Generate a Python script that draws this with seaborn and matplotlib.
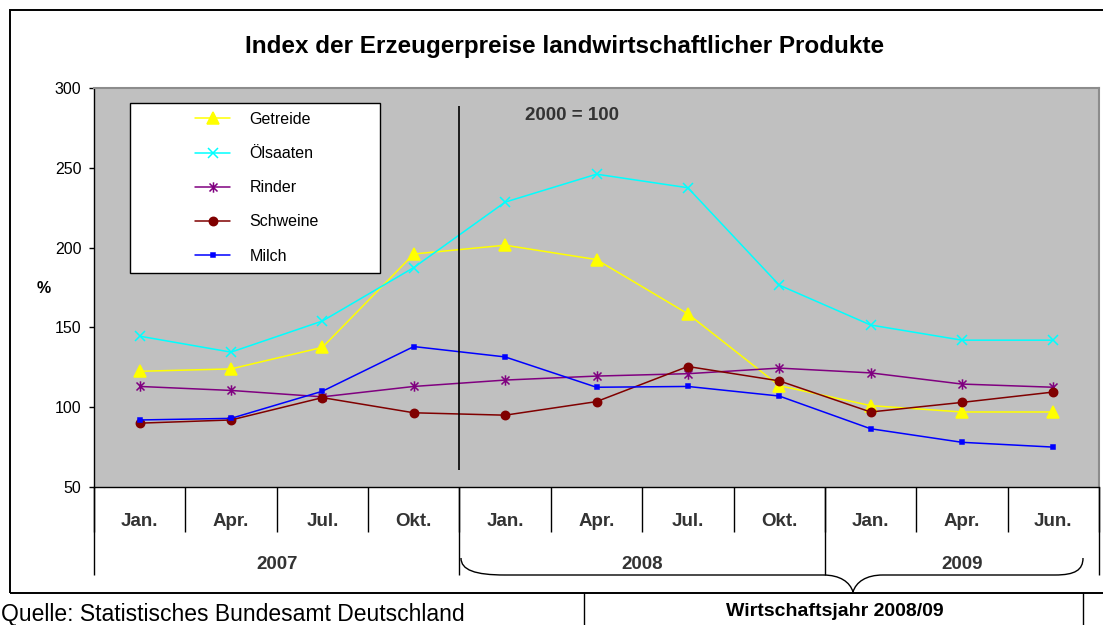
import numpy as np
import matplotlib
matplotlib.use("Agg")
import matplotlib.pyplot as plt
from matplotlib.path import Path
from matplotlib.patches import PathPatch, Rectangle
from matplotlib.lines import Line2D
import seaborn as sns

# values (index, 2000 = 100)
months = ["Jan.", "Apr.", "Jul.", "Okt.", "Jan.", "Apr.", "Jul.", "Okt.", "Jan.", "Apr.", "Jun."]
years = ["2007", "2008", "2009"]
year_centers = [1.5, 5.5, 9.0]
year_bounds = [-0.5, 3.5, 7.5, 10.5]

getreide = [122.5, 124, 137.5, 196, 201.5, 192.5, 158.5, 113.5, 101, 97, 97]
oelsaaten = [144.5, 134.5, 154, 187.5, 228.5, 246, 237.5, 176.5, 151.5, 142, 142]
rinder = [113, 110.5, 106.5, 113, 117, 119.5, 121, 124.5, 121.5, 114.5, 112.5]
schweine = [90, 92, 106, 96.5, 95, 103.5, 125.5, 116.5, 97, 103, 109.5]
milch = [92, 93, 110, 138, 131.5, 112.5, 113, 107, 86.5, 78, 75]

split_x = 3.5
split_range = (60.6, 288.8)

sns.set_style("ticks")
plt.rcParams['font.family'] = ['Liberation Sans', 'DejaVu Sans']
plt.rcParams['text.color'] = 'black'

W, H = 1103, 625


def fx(px):
    return px / W


def fy(py):
    return 1 - py / H


fig = plt.figure(figsize=(11.03, 6.25), dpi=100)
fig.patch.set_facecolor("white")
ax = fig.add_axes([fx(94), fy(487), fx(1099) - fx(94), fy(88) - fy(487)])
ax.set_facecolor("#c0c0c0")

# excel style "star" marker: x plus vertical bar
star = Path([(-1, -1), (1, 1), (-1, 1), (1, -1), (0, -1.3), (0, 1.3)],
            [Path.MOVETO, Path.LINETO, Path.MOVETO, Path.LINETO, Path.MOVETO, Path.LINETO])

series = [
    ("Getreide", getreide, "#ffff00", "^", 8),
    ("Ölsaaten", oelsaaten, "#00ffff", "x", 7),
    ("Rinder", rinder, "#800080", star, 7.5),
    ("Schweine", schweine, "#800000", "o", 6),
    ("Milch", milch, "#0000ff", "s", 2.5),
]

x = np.arange(len(months))
for name, vals, color, marker, ms in series:
    sns.lineplot(x=x, y=vals, color=color, marker=marker, markersize=ms,
                 markeredgecolor=color, markerfacecolor=color, markeredgewidth=1.1,
                 linewidth=1.1, label=name, ax=ax)

ax.vlines(split_x, *split_range, color="black", lw=1.2, zorder=3)

ax.set_xlim(-0.5, 10.5)
ax.set_ylim(50, 300)
ax.set_yticks(range(50, 301, 50))
ax.set_xticks([])
ax.set_xlabel("")
ax.tick_params(axis="y", labelsize=11.5, length=3.6, width=1, pad=5.5, colors="black")
for s in ["left", "bottom"]:
    ax.spines[s].set_color("black")
    ax.spines[s].set_linewidth(1)
for s in ["top", "right"]:
    ax.spines[s].set_color("#8c8c8c")
    ax.spines[s].set_linewidth(1.5)

# legend with its own frame
ax.add_patch(Rectangle((36 / 1005, 214 / 399), 250 / 1005, 170 / 399, transform=ax.transAxes,
                       facecolor="white", edgecolor="black", lw=1, zorder=4))
ax.legend(loc="upper left", bbox_to_anchor=(0.1006, 0.94), frameon=False, fontsize=11.5,
          handlelength=2.2, handletextpad=1.2, labelspacing=1.2, borderpad=0,
          borderaxespad=0)

ax.text(0.429, 0.92, "2000 = 100", transform=ax.transAxes, fontsize=13.5,
        fontweight="bold", color="#333333", va="baseline", ha="left")

# category table under the axis
xt = ax.get_xaxis_transform()
ax.vlines(np.arange(-0.5, 11, 1), -0.113, 0, transform=xt, clip_on=False, color="black", lw=1)
ax.vlines(year_bounds, -0.2206, 0, transform=xt, clip_on=False, color="black", lw=1)
for i, m in enumerate(months):
    ax.text(i, -0.097, m, transform=xt, ha="center", va="baseline", fontsize=13.5,
            fontweight="bold", color="#333333")
for xc, yr in zip(year_centers, years):
    ax.text(xc, -0.206, yr, transform=xt, ha="center", va="baseline", fontsize=13.5,
            fontweight="bold", color="#333333")

fig.text(fx(43.7), fy(293.3), "%", ha="center", va="baseline", fontsize=11.5, fontweight="bold")
fig.text(fx(564.5), fy(53), "Index der Erzeugerpreise landwirtschaftlicher Produkte",
         ha="center", va="baseline", fontsize=17.5, fontweight="bold")

# outer chart frame
fig.add_artist(Rectangle((fx(9.5), fy(593)), fx(1115) - fx(9.5), fy(9.5) - fy(593),
                         transform=fig.transFigure, fill=False, ec="black", lw=1.4))

# curly brace for the Wirtschaftsjahr
pts = [(461, 558), (461, 570), (475, 575), (505, 575), (823, 575),
       (840, 575), (850, 582), (853, 592), (856, 582), (866, 575), (883, 575),
       (1055, 575), (1075, 575), (1083, 570), (1083, 558)]
codes = [Path.MOVETO, Path.CURVE4, Path.CURVE4, Path.CURVE4, Path.LINETO,
         Path.CURVE4, Path.CURVE4, Path.CURVE4, Path.CURVE4, Path.CURVE4, Path.CURVE4,
         Path.LINETO, Path.CURVE4, Path.CURVE4, Path.CURVE4]
brace = Path([(fx(a), fy(b)) for a, b in pts], codes)
fig.add_artist(PathPatch(brace, transform=fig.transFigure, fill=False, ec="black", lw=1))

for bx in [584, 1083]:
    fig.add_artist(Line2D([fx(bx), fx(bx)], [fy(593), fy(640)], transform=fig.transFigure,
                          color="black", lw=1))
fig.text(fx(835), fy(616), "Wirtschaftsjahr 2008/09", ha="center", va="baseline",
         fontsize=14, fontweight="bold")
fig.text(fx(1), fy(621), "Quelle: Statistisches Bundesamt Deutschland", ha="left",
         va="baseline", fontsize=16.5)

fig.savefig("out.png", dpi=100)
